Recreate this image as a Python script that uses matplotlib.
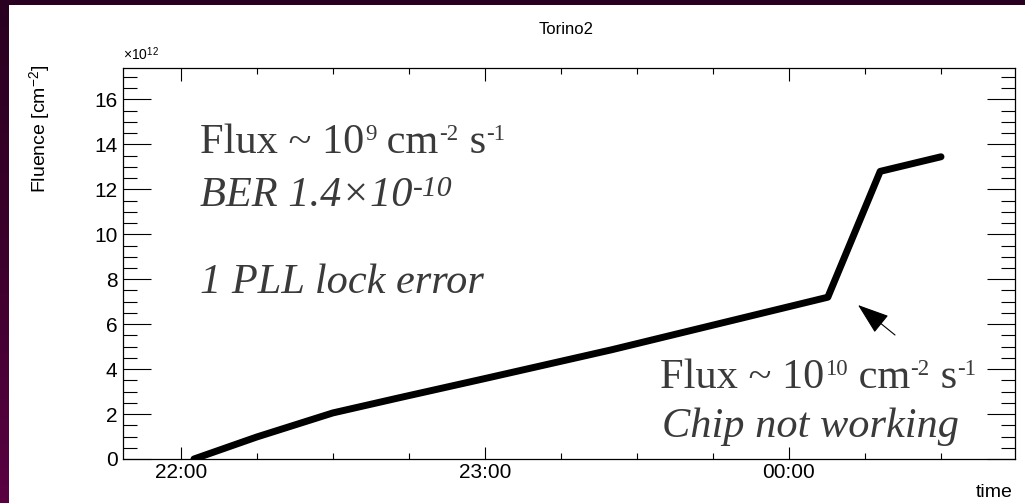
import datetime as dt
import numpy as np
import matplotlib
matplotlib.use("Agg")
import matplotlib.pyplot as plt
import matplotlib.dates as mdates
from matplotlib.ticker import MultipleLocator
from matplotlib.colors import LinearSegmentedColormap

# ---- data ----
times = ["22:02:36", "22:15", "22:30", "22:43", "23:00", "23:25",
         "00:07:40", "00:18", "00:30"]
fluence = [0.0, 0.98, 2.05, 2.72, 3.58, 4.86, 7.2, 12.8, 13.45]   # x1e12 cm^-2
x_range = ["21:48:36", "00:44:36"]
y_range = [0.0, 17.4]
title = "Torino2"
ylabel = "Fluence [cm$^{\\mathsf{-2}}$]"
xlabel = "time"

def to_dt(s):
    parts = [int(p) for p in s.split(":")]
    while len(parts) < 3:
        parts.append(0)
    day = 1 if parts[0] >= 12 else 2
    return dt.datetime(2012, 1, day, parts[0], parts[1], parts[2])

tx = [to_dt(t) for t in times]

plt.rcParams["mathtext.fontset"] = "custom"
plt.rcParams["mathtext.rm"] = "Liberation Serif"
plt.rcParams["mathtext.it"] = "Liberation Serif:italic"
plt.rcParams["mathtext.sf"] = "Liberation Sans"
plt.rcParams["font.family"] = ["Liberation Sans", "DejaVu Sans"]

W, H = 1025, 503
fig = plt.figure(figsize=(W / 100, H / 100), dpi=100)
fig.patch.set_facecolor("white")

# dark purple frame: left strip (gradient) and top strip
cmap = LinearSegmentedColormap.from_list("frame", ["#290020", "#3c002c", "#5a0042"])
grad = np.linspace(0, 1, 256).reshape(-1, 1)
left = fig.add_axes([0, 0, 9 / W, 1], zorder=-10)
left.imshow(grad, aspect="auto", cmap=cmap, extent=[0, 1, 0, 1], origin="upper")
left.axis("off")
top = fig.add_axes([0, 1 - 5 / H, 1, 5 / H], zorder=-9)
top.set_facecolor("#290020")
top.set_xticks([])
top.set_yticks([])
for s in top.spines.values():
    s.set_visible(False)

ax = fig.add_axes([123 / W, (H - 459) / H, (1015 - 123) / W, (459 - 68) / H])
ax.patch.set_alpha(0)
ax.plot(tx, fluence, color="black", lw=5, solid_capstyle="round",
        solid_joinstyle="round")

ax.set_xlim(to_dt(x_range[0]), to_dt(x_range[1]))
ax.set_ylim(*y_range)

ax.xaxis.set_major_locator(mdates.HourLocator())
ax.xaxis.set_minor_locator(mdates.MinuteLocator(byminute=[0, 15, 30, 45]))
ax.xaxis.set_major_formatter(mdates.DateFormatter("%H:%M"))
ax.yaxis.set_major_locator(MultipleLocator(2))
ax.yaxis.set_minor_locator(MultipleLocator(0.5))

ax.tick_params(which="both", direction="in", top=True, right=True,
               width=0.8, labelsize=15, colors="black")
ax.tick_params(axis="y", which="major", length=20, pad=4)
ax.tick_params(axis="y", which="minor", length=10)
ax.tick_params(axis="x", which="major", length=9, pad=3)
ax.tick_params(axis="x", which="minor", length=4.5)
for s in ax.spines.values():
    s.set_linewidth(0.9)

ax.text(0, 1.012, "×10$^{\\mathsf{12}}$", transform=ax.transAxes,
        fontsize=10, ha="left", va="bottom")
fig.text(566 / W, 1 - 30 / H, title, fontsize=12, ha="center", va="center")
fig.text(40 / W, 1 - 65 / H, ylabel, rotation=90, fontsize=14,
         ha="center", va="top")
fig.text(1013 / W, 1 - 497 / H, xlabel, fontsize=14, ha="right",
         va="baseline")

tc = "#3a3a3a"
sfont = ["Liberation Serif", "DejaVu Serif"]
BASE = 30.5

def ax_pt(px, py):
    return ((px - 123) / (1015 - 123), (459 - py) / (459 - 68))

def rich(px, py, segments, style="normal"):
    """segments = [(text, size_ratio, rise_in_points), ...] drawn left to right."""
    x0, y0 = ax_pt(px, py)
    prev = None
    for txt, ratio, rise in segments:
        fs = BASE * ratio
        if prev is None:
            prev = ax.text(x0, y0, txt, transform=ax.transAxes, fontsize=fs,
                           family=sfont, style=style, color=tc,
                           va="baseline", ha="left")
        else:
            prev = ax.annotate(txt, xy=(1, y0), xycoords=(prev, ax.transAxes),
                               xytext=(0.5 if rise else 0, rise),
                               textcoords="offset points", fontsize=fs,
                               family=sfont, style=style, color=tc,
                               va="baseline", ha="left")
    return prev

SUP = (0.54, 9.3)
rich(200, 153, [("Flux ~ 10", 1, 0), ("9", *SUP), (" cm", 1, 0), ("-2", *SUP),
                (" s", 1, 0), ("-1", *SUP)])
rich(200, 206, [("BER 1.4×10", 1, 0), ("-10", 0.7, 7.5)], style="italic")
rich(200, 293, [("1 PLL lock error", 1, 0)], style="italic")
rich(660, 388, [("Flux ~ 10", 1, 0), ("10", *SUP), (" cm", 1, 0), ("-2", *SUP),
                (" s", 1, 0), ("-1", *SUP)])
rich(662, 437, [("Chip not working", 1, 0)], style="italic")

ax.annotate("", xy=ax_pt(858, 305), xytext=ax_pt(895, 335),
            xycoords="axes fraction", textcoords="axes fraction",
            arrowprops=dict(arrowstyle="-|>,head_length=1.0,head_width=0.35",
                            mutation_scale=20, lw=0.8, color="black",
                            shrinkA=0, shrinkB=0))

fig.savefig("out.png", dpi=100, facecolor="white")
